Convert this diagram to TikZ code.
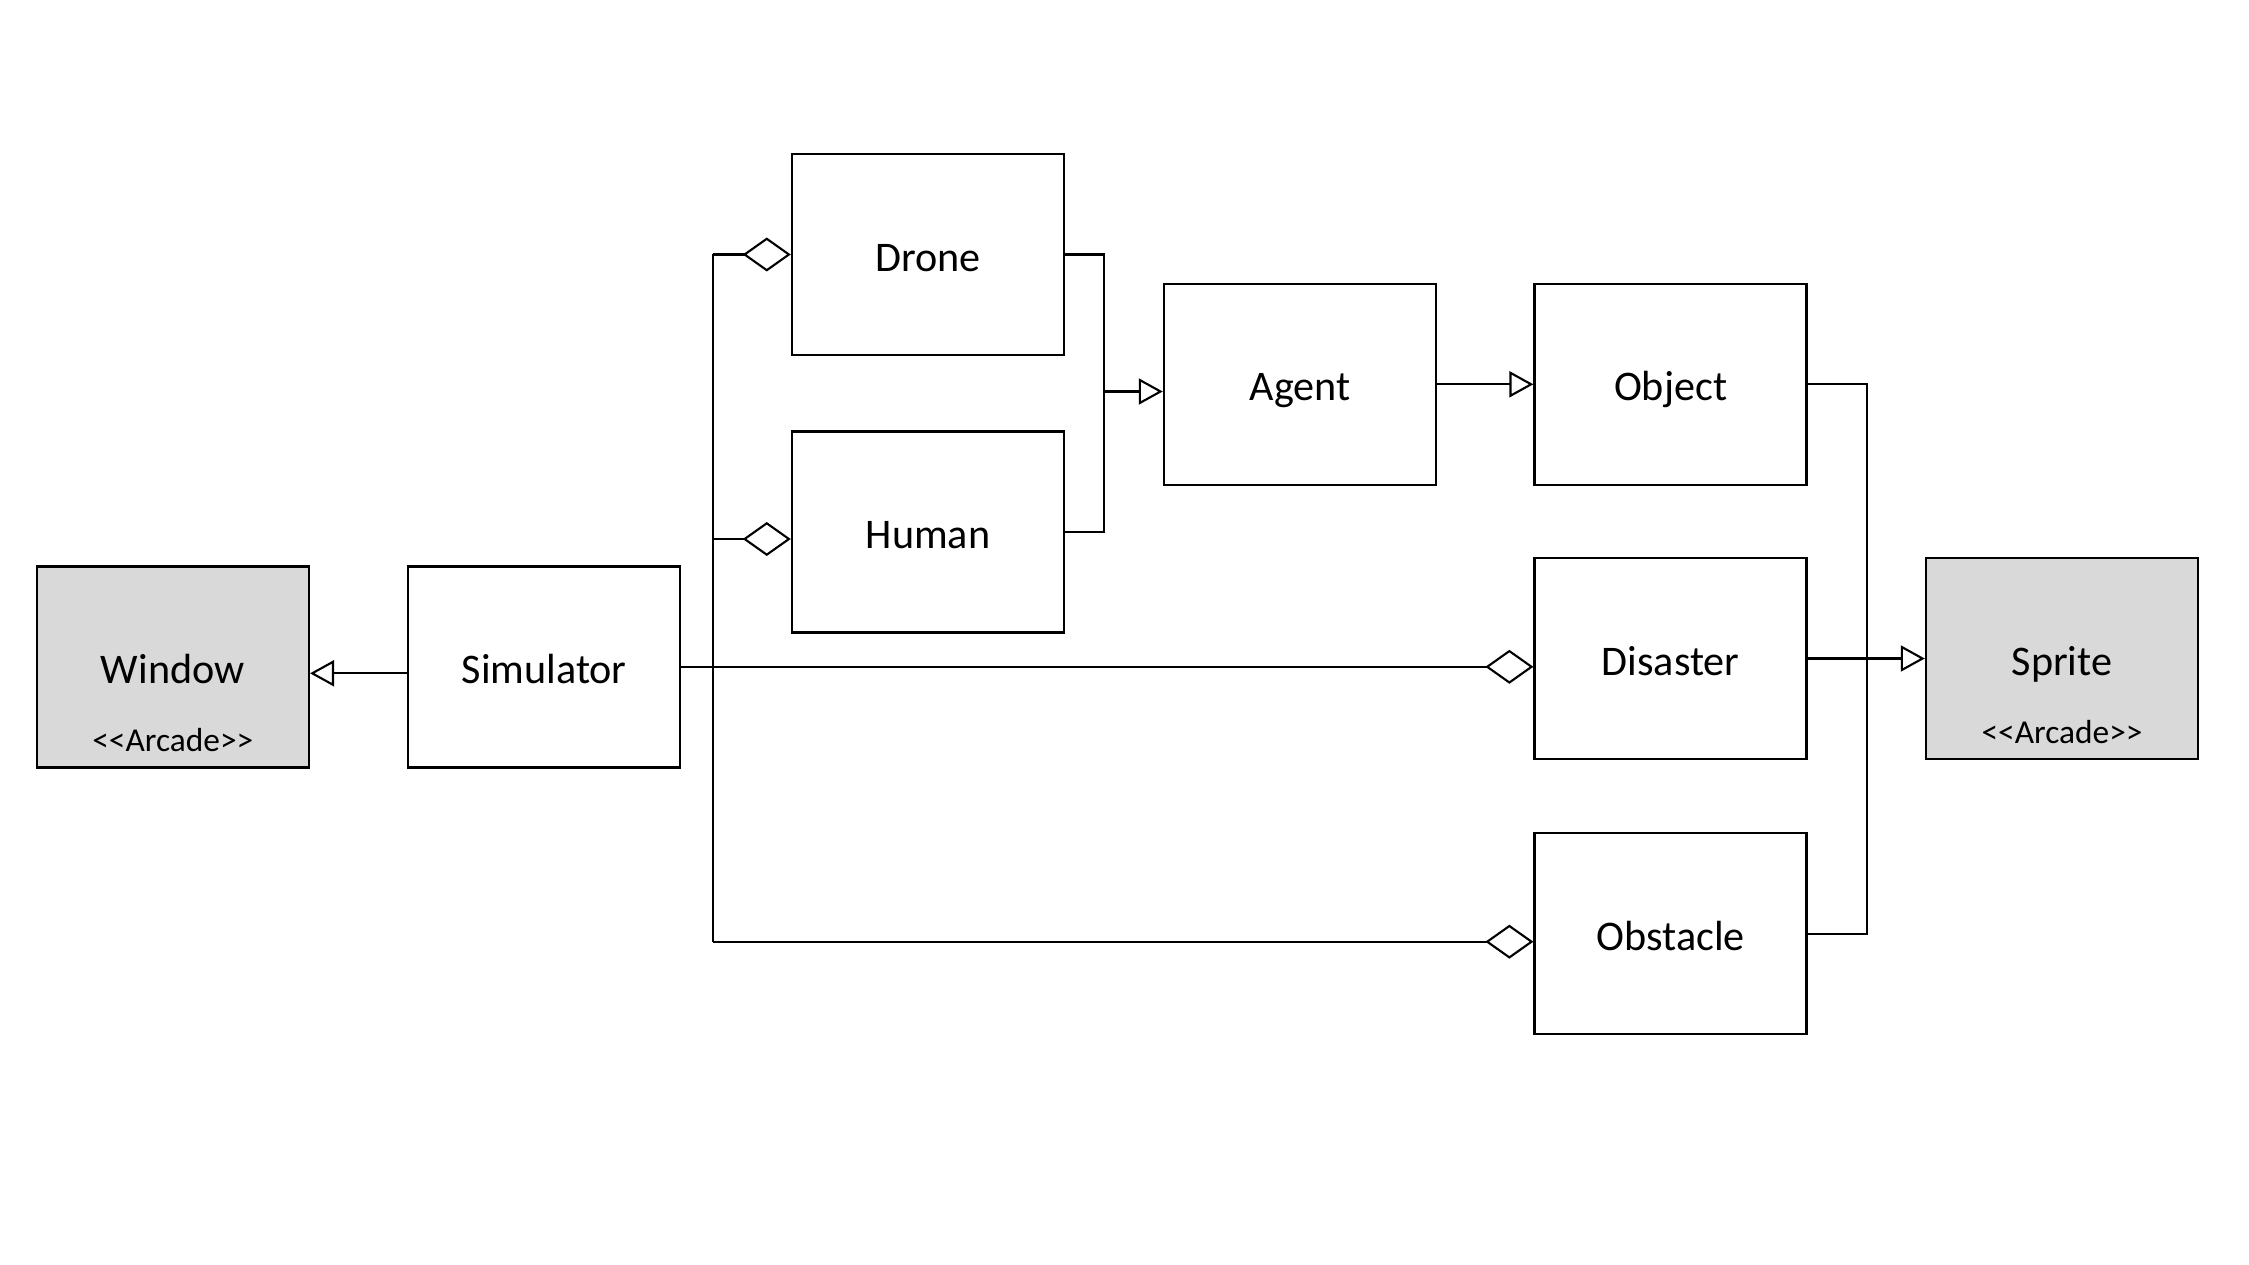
\documentclass[tikz,border=0pt]{standalone}
\usepackage{fontspec}
\setmainfont{Carlito}
\usetikzlibrary{arrows.meta}

\newcommand\arcade{<\kern0pt<Arcade>\kern0pt>}

\tikzset{
  every node/.style={draw,line width=0.7pt,minimum width=2.72cm,minimum height=2.01cm,
    inner sep=0pt,text height=9.5pt,text depth=0pt,font=\fontsize{12}{14}\selectfont},
  lib/.style={fill=black!15,
    label={[draw=none,minimum width=0pt,minimum height=0pt,text height=,text depth=,
      anchor=base,inner sep=0pt,yshift=0.17cm,font=\fontsize{9.5}{11}\selectfont]south:\arcade}},
  gen/.style={-{Triangle[open,length=0.24cm,width=0.26cm]}},
  agg/.style={-{Diamond[open,length=0.48cm,width=0.34cm]}}
}

\begin{document}
\begin{tikzpicture}[line width=0.6pt]
      \useasboundingbox (0,0) rectangle (22.49,-12.65);

      \node [lib] (win) at (1.728,-6.668) {Window};
      \node (sim) at (5.442,-6.668) {Simulator};
      \node (drone) at (9.28,-2.545) {Drone};
      \node (human) at (9.28,-5.32) {Human};
      \node (agent) at (13.0,-3.843) {Agent};
      \node (obj) at (16.706,-3.843) {Object};
      \node (dis) at (16.706,-6.585) {Disaster};
      \node (obs) at (16.706,-9.337) {Obstacle};
      \node [lib] (sprite) at (20.62,-6.585) {Sprite};

      % bus lines
      \coordinate (bus) at (7.127,-6.668);
      \coordinate (join) at (11.04,-3.915);
      \coordinate (sbus) at (18.67,-6.585);
      \coordinate (wy) at ([yshift=-0.065cm]sim.west);
      \coordinate (hy) at ([yshift=-0.07cm]human.west);
      \coordinate (oy) at ([yshift=-0.08cm]obs.west);

      \draw [gen] (wy) -- (wy -| win.east);
      \draw [agg] (sim.east) -- (sim.east -| dis.west);
      \draw (bus |- drone.west) -- (bus |- oy);
      \foreach \to in {drone.west,hy,oy}
        \draw [agg] (bus |- \to) -- (\to);

      \draw (drone.east) -| (join |- human.east) -- (human.east);
      \draw [gen] (join) -- (join -| agent.west);
      \draw [gen] (agent.east) -- (obj.west);

      \draw (obj.east) -| (sbus |- obs.east) -- (obs.east);
      \draw [gen] (dis.east) -- (sprite.west);
    \end{tikzpicture}
\end{document}
